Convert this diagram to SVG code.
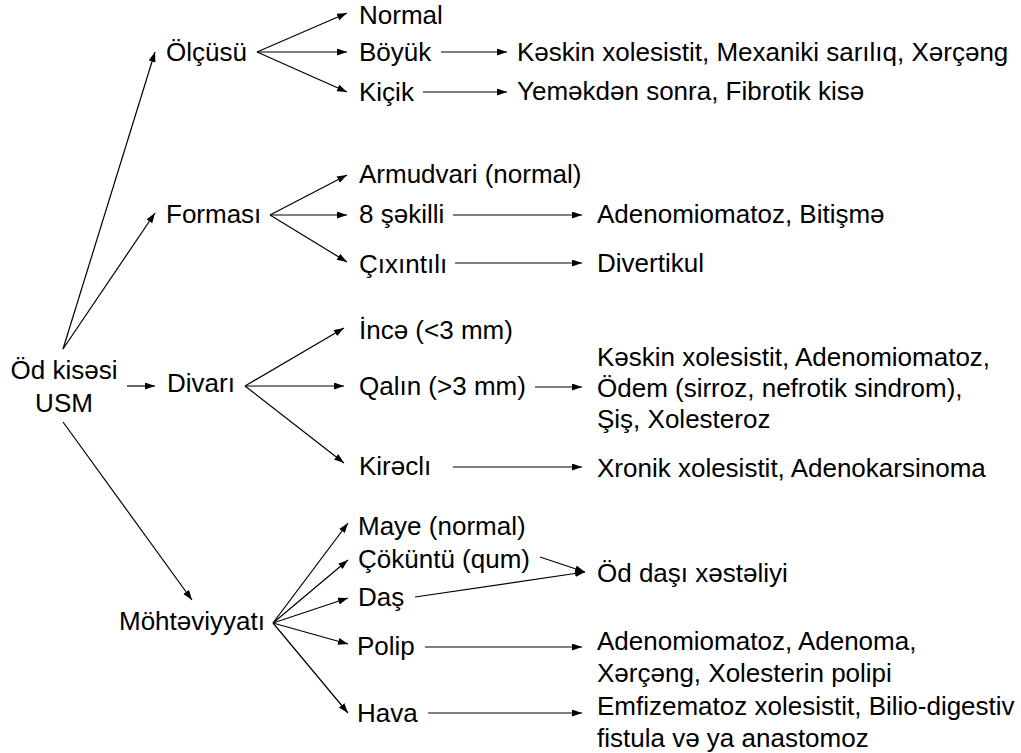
<svg xmlns="http://www.w3.org/2000/svg" width="1021" height="753" viewBox="0 0 1021 753">
<style>
text{font-family:"Liberation Sans",Arial,sans-serif;font-size:26px;fill:#000}
.c line{stroke:#000;stroke-width:1.2;marker-end:url(#a)}
</style>
<defs>
<marker id="a" markerUnits="userSpaceOnUse" markerWidth="11" markerHeight="8" refX="10" refY="3.5" orient="auto">
<path d="M0,0 L10,3.5 L0,7 z" fill="#000"/>
</marker>
</defs>
<rect width="1021" height="753" fill="#fff"/>
<g class="c" id="connectors">
<line x1="63" y1="349" x2="155" y2="52"/>
<line x1="63" y1="349" x2="155" y2="213"/>
<line x1="127" y1="386" x2="155" y2="386"/>
<line x1="63" y1="422" x2="192" y2="600"/>
<line x1="257" y1="52" x2="347" y2="13"/>
<line x1="257" y1="52" x2="347" y2="52"/>
<line x1="257" y1="52" x2="347" y2="92"/>
<line x1="270" y1="215" x2="347" y2="175"/>
<line x1="270" y1="215" x2="347" y2="215"/>
<line x1="270" y1="215" x2="347" y2="262"/>
<line x1="245" y1="386" x2="344" y2="328"/>
<line x1="245" y1="386" x2="344" y2="386"/>
<line x1="245" y1="386" x2="344" y2="463"/>
<line x1="273" y1="623" x2="348" y2="523"/>
<line x1="273" y1="623" x2="348" y2="560"/>
<line x1="273" y1="623" x2="348" y2="598"/>
<line x1="273" y1="623" x2="348" y2="644"/>
<line x1="273" y1="623" x2="348" y2="713"/>
<line x1="441" y1="52" x2="507" y2="52"/>
<line x1="423" y1="92" x2="507" y2="92"/>
<line x1="453" y1="215" x2="582" y2="215"/>
<line x1="455" y1="263" x2="582" y2="263"/>
<line x1="535" y1="387" x2="582" y2="387"/>
<line x1="453" y1="467" x2="582" y2="467"/>
<line x1="540" y1="557" x2="585" y2="572"/>
<line x1="415" y1="597" x2="585" y2="572"/>
<line x1="425" y1="647" x2="582" y2="647"/>
<line x1="428" y1="713" x2="582" y2="713"/>
</g>
<g id="root"><text x="64" y="379" text-anchor="middle">Öd kisəsi</text><text x="64" y="412" text-anchor="middle">USM</text></g>
<g id="olcusu"><text x="166" y="61">Ölçüsü</text></g>
<g id="formasi"><text x="166" y="223">Forması</text></g>
<g id="divari"><text x="167" y="392">Divarı</text></g>
<g id="mohteviyyati"><text x="119" y="630">Möhtəviyyatı</text></g>
<g id="normal"><text x="359" y="24">Normal</text></g>
<g id="boyuk"><text x="359" y="61">Böyük</text></g>
<g id="kicik"><text x="359" y="101">Kiçik</text></g>
<g id="armudvari"><text x="359" y="183">Armudvari (normal)</text></g>
<g id="sekilli"><text x="359" y="223">8 şəkilli</text></g>
<g id="cixintili"><text x="359" y="273">Çıxıntılı</text></g>
<g id="ince"><text x="359" y="339">İncə (&lt;3 mm)</text></g>
<g id="qalin"><text x="359" y="395">Qalın (&gt;3 mm)</text></g>
<g id="kireclı"><text x="359" y="475">Kirəclı</text></g>
<g id="maye"><text x="358" y="535">Maye (normal)</text></g>
<g id="cokuntu"><text x="358" y="568">Çöküntü (qum)</text></g>
<g id="das"><text x="358" y="606">Daş</text></g>
<g id="polip"><text x="357" y="655">Polip</text></g>
<g id="hava"><text x="357" y="722">Hava</text></g>
<g id="boyuk-r"><text x="517" y="61">Kəskin xolesistit, Mexaniki sarılıq, Xərçəng</text></g>
<g id="kicik-r"><text x="517" y="100">Yeməkdən sonra, Fibrotik kisə</text></g>
<g id="sekilli-r"><text x="597" y="223">Adenomiomatoz, Bitişmə</text></g>
<g id="cixintili-r"><text x="597" y="272">Divertikul</text></g>
<g id="qalin-r"><text x="597" y="366">Kəskin xolesistit, Adenomiomatoz,</text><text x="597" y="397">Ödem (sirroz, nefrotik sindrom),</text><text x="597" y="428">Şiş, Xolesteroz</text></g>
<g id="kireclı-r"><text x="597" y="477">Xronik xolesistit, Adenokarsinoma</text></g>
<g id="das-r"><text x="597" y="582">Öd daşı xəstəliyi</text></g>
<g id="polip-r"><text x="597" y="650">Adenomiomatoz, Adenoma,</text><text x="597" y="682">Xərçəng, Xolesterin polipi</text></g>
<g id="hava-r"><text x="597" y="715">Emfizematoz xolesistit, Bilio-digestiv</text><text x="597" y="747">fistula və ya anastomoz</text></g>
</svg>
